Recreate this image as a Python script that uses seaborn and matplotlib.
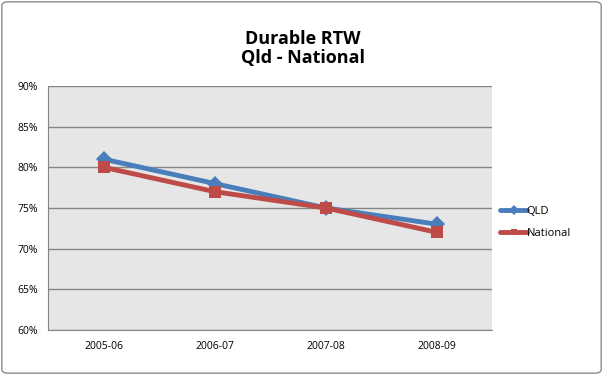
import matplotlib
matplotlib.use("Agg")
import matplotlib.pyplot as plt
import seaborn as sns
import pandas as pd
from matplotlib.patches import FancyBboxPatch
from matplotlib.ticker import FuncFormatter

years = ["2005-06", "2006-07", "2007-08", "2008-09"]
qld = [81, 78, 75, 73]
national = [80, 77, 75, 72]

sns.set_style("white")
plt.rcParams["font.family"] = ["Open Sans", "DejaVu Sans"]
plt.rcParams["text.color"] = "black"
plt.rcParams["xtick.color"] = "black"
plt.rcParams["ytick.color"] = "black"

df = pd.DataFrame({"year": years * 2,
                   "value": qld + national,
                   "series": ["QLD"] * 4 + ["National"] * 4})

fig = plt.figure(figsize=(6.03, 3.75), dpi=100)
ax = fig.add_axes([0.0796, 0.12, 0.737, 0.651])
ax.set_facecolor("#e6e6e6")

sns.lineplot(data=df, x="year", y="value", hue="series", style="series",
             palette={"QLD": "#4a7ebb", "National": "#be4b48"},
             markers={"QLD": "D", "National": "s"}, dashes=False,
             markersize=8, linewidth=3.5, markeredgewidth=0, ax=ax, sort=False)

ax.set_ylim(60, 90)
ax.set_yticks(range(60, 91, 5))
ax.yaxis.set_major_formatter(FuncFormatter(lambda v, p: f"{int(v)}%"))
ax.set_xlim(-0.5, 3.5)
ax.grid(axis="y", color="#868686", linewidth=1)
ax.set_axisbelow(True)
for s in ["top", "right"]:
    ax.spines[s].set_visible(False)
for s in ["left", "bottom"]:
    ax.spines[s].set_color("#868686")
ax.tick_params(axis="both", labelsize=7.5, length=4, color="#868686", labelcolor="black", direction="out")
ax.tick_params(axis="x", length=0, pad=8)
ax.set_xlabel("")
ax.set_ylabel("")

ax.legend(loc="center left", bbox_to_anchor=(0.995, 0.44), frameon=False,
          fontsize=8, handlelength=2.4, handletextpad=0.0, labelspacing=1.0,
          markerscale=0.6)

fig.text(0.502, 0.87, "Durable RTW\nQld - National", ha="center", va="center",
         fontsize=13, fontweight="bold", linespacing=1.05, color="black")

border = FancyBboxPatch((0.003, 0.005), 0.994, 0.99, boxstyle="round,pad=0,rounding_size=0.01",
                        transform=fig.transFigure, fill=False, edgecolor="#8c8c8c", linewidth=1)
fig.patches.append(border)

fig.savefig("out.png", dpi=100)
